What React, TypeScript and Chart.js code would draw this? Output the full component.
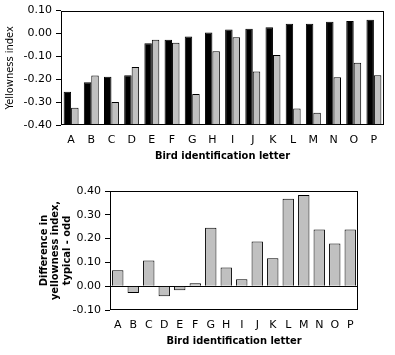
import React, { useEffect, useRef } from "react";
import { Chart, registerables } from "chart.js";

Chart.register(...registerables);

const letters = ["A", "B", "C", "D", "E", "F", "G", "H", "I", "J", "K", "L", "M", "N", "O", "P"];
const typical = [-0.255, -0.213, -0.189, -0.183, -0.043, -0.027, -0.013, 0.004, 0.017, 0.021, 0.027, 0.043, 0.043, 0.051, 0.055, 0.06];
const odd = [-0.325, -0.184, -0.3, -0.146, -0.027, -0.04, -0.265, -0.078, -0.017, -0.166, -0.094, -0.328, -0.346, -0.191, -0.128, -0.183];
const difference = [0.067, -0.029, 0.108, -0.042, -0.017, 0.012, 0.246, 0.079, 0.029, 0.188, 0.117, 0.367, 0.383, 0.238, 0.179, 0.238];

const topTicks = [0.1, 0.0, -0.1, -0.2, -0.3, -0.4];
const bottomTicks = [0.4, 0.3, 0.2, 0.1, 0.0, -0.1];

const tickFont = { family: "DejaVu Sans", size: 11 };
const titleFont = { family: "'DejaVu Sans Condensed', 'Liberation Sans', sans-serif", size: 11, weight: "bold" as const };

const framePlugin = {
  id: "frame",
  afterDraw(chart: any) {
    const { ctx, chartArea } = chart;
    ctx.save();
    ctx.strokeStyle = "#000";
    ctx.lineWidth = 1;
    ctx.strokeRect(
      Math.round(chartArea.left) + 0.5,
      Math.round(chartArea.top) + 0.5,
      Math.round(chartArea.right - chartArea.left) - 1,
      Math.round(chartArea.bottom - chartArea.top) - 1
    );
    ctx.restore();
  },
};

function fmt(v: number) {
  const s = Math.abs(v).toFixed(2);
  return (v < -0.0001 ? "-" : "") + s;
}

function TopChart() {
  const ref = useRef<HTMLCanvasElement>(null);
  useEffect(() => {
    const chart = new Chart(ref.current!, {
      type: "bar",
      data: {
        labels: letters,
        datasets: [
          {
            label: "Typical",
            data: typical,
            backgroundColor: "#000000",
            borderColor: "#000000",
            borderWidth: 1,
            base: -0.4,
            categoryPercentage: 0.74,
            barPercentage: 1,
          } as any,
          {
            label: "Odd",
            data: odd,
            backgroundColor: "#c0c0c0",
            borderColor: "#000000",
            borderWidth: 1,
            base: -0.4,
            categoryPercentage: 0.74,
            barPercentage: 1,
          } as any,
        ],
      },
      options: {
        responsive: false,
        animation: false,
        layout: { padding: { left: 0, top: 7, right: 11, bottom: 0 } },
        plugins: { legend: { display: false }, tooltip: { enabled: false } },
        scales: {
          x: {
            offset: true,
            grid: { display: false, drawTicks: false },
            border: { display: false },
            ticks: { color: "#000", font: tickFont, padding: 9, maxRotation: 0, autoSkip: false },
            title: { display: true, text: "Bird identification letter", color: "#000", font: titleFont, padding: { top: 0, bottom: 9 } },
            afterFit: (s: any) => { s.height = 47; },
          },
          y: {
            min: -0.4,
            max: 0.1,
            afterBuildTicks: (s: any) => { s.ticks = topTicks.map((v) => ({ value: v })); },
            grid: { drawOnChartArea: false, drawTicks: true, tickLength: 5, color: "#000", tickColor: "#000" },
            border: { display: false },
            ticks: { color: "#000", font: tickFont, padding: 4, callback: (v: any) => fmt(Number(v)) },
            title: { display: true, text: "Yellowness index", color: "#000", font: { family: "'DejaVu Sans Condensed', 'Liberation Sans', sans-serif", size: 11 }, padding: { top: 4, bottom: 0 } },
            afterFit: (s: any) => { s.width = 61; },
          },
        },
      },
      plugins: [framePlugin],
    } as any);
    return () => chart.destroy();
  }, []);
  return <canvas ref={ref} width={395} height={172} style={{ position: "absolute", left: 0, top: 0, width: 395, height: 172 }} />;
}

function BottomChart() {
  const ref = useRef<HTMLCanvasElement>(null);
  useEffect(() => {
    const chart = new Chart(ref.current!, {
      type: "bar",
      data: {
        labels: letters,
        datasets: [
          {
            label: "Difference",
            data: difference,
            backgroundColor: "#c0c0c0",
            borderColor: "#000000",
            borderWidth: 1,
            categoryPercentage: 1,
            barPercentage: 0.735,
          },
        ],
      },
      options: {
        responsive: false,
        animation: false,
        layout: { padding: { left: 0, top: 19, right: 37, bottom: 0 } },
        plugins: { legend: { display: false }, tooltip: { enabled: false } },
        scales: {
          x: {
            offset: true,
            grid: { display: false, drawTicks: false },
            border: { display: false },
            ticks: { color: "#000", font: tickFont, padding: 9, maxRotation: 0, autoSkip: false },
            title: { display: true, text: "Bird identification letter", color: "#000", font: titleFont, padding: { top: 0, bottom: 7 } },
            afterFit: (s: any) => { s.height = 45; },
          },
          y: {
            min: -0.1,
            max: 0.4,
            afterBuildTicks: (s: any) => { s.ticks = bottomTicks.map((v) => ({ value: v })); },
            grid: {
              drawOnChartArea: true,
              drawTicks: true,
              tickLength: 5,
              color: (c: any) => (c.tick && Math.abs(c.tick.value) < 1e-9 ? "#000" : "rgba(0,0,0,0)"),
              tickColor: "#000",
            },
            border: { display: false },
            ticks: { color: "#000", font: tickFont, padding: 4, callback: (v: any) => fmt(Number(v)) },
            title: {
              display: true,
              text: ["Difference in", "yellowness index,", "typical - odd"],
              color: "#000",
              font: { family: "'DejaVu Sans Condensed', 'Liberation Sans', sans-serif", size: 11, weight: "bold", lineHeight: "11.5px" },
              padding: { top: 38, bottom: 0 },
            },
            afterFit: (s: any) => { s.width = 110; },
          },
        },
      },
      plugins: [framePlugin],
    } as any);
    return () => chart.destroy();
  }, []);
  return <canvas ref={ref} width={395} height={183} style={{ position: "absolute", left: 0, top: 172, width: 395, height: 183 }} />;
}

export default function App() {
  return (
    <div style={{ position: "fixed", left: 0, top: 0, width: 395, height: 355, background: "#fff", overflow: "hidden" }}>
      <TopChart />
      <BottomChart />
    </div>
  );
}
